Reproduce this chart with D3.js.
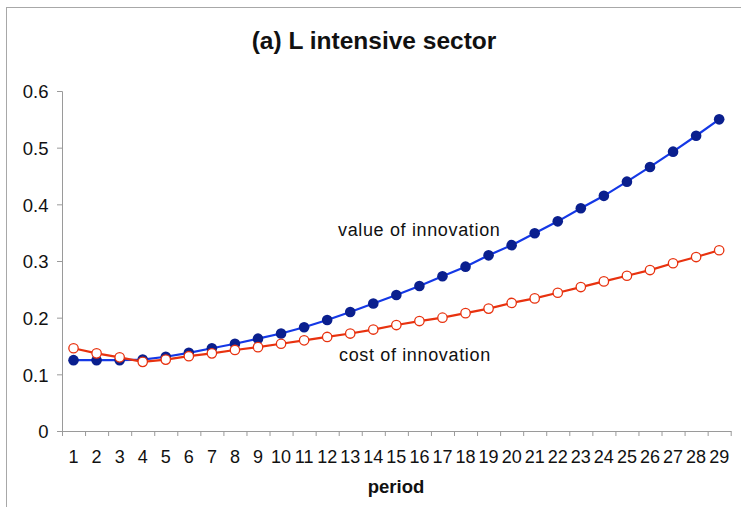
<!DOCTYPE html>
<html>
<head>
<meta charset="utf-8">
<script src="https://cdn.jsdelivr.net/npm/d3@7"></script>
<style>
  html, body { margin: 0; padding: 0; background: #fff; }
  svg { display: block; font-family: "Liberation Sans", Arial, Helvetica, sans-serif; }
</style>
</head>
<body>
<svg id="chart" width="741" height="507"></svg>
<script>
// ---- data ----
const periods = d3.range(1, 30).map(String);
const valueOfInnovation = [0.125,0.125,0.125,0.126,0.131,0.138,0.146,0.154,0.163,0.172,0.183,0.196,0.210,0.225,0.240,0.256,0.273,0.290,0.310,0.328,0.349,0.370,0.393,0.415,0.440,0.466,0.493,0.521,0.550];
const costOfInnovation = [0.146,0.137,0.130,0.122,0.126,0.132,0.137,0.143,0.148,0.154,0.160,0.166,0.172,0.179,0.187,0.194,0.200,0.208,0.216,0.226,0.234,0.244,0.254,0.264,0.274,0.284,0.296,0.307,0.319];
const yTicks = [0, 0.1, 0.2, 0.3, 0.4, 0.5, 0.6];
const yTickLabels = ["0", "0.1", "0.2", "0.3", "0.4", "0.5", "0.6"];
const titleText = "(a) L intensive sector";
const xTitle = "period";
const seriesLabels = ["value of innovation", "cost of innovation"];

// ---- layout ----
const svg = d3.select("#chart");
const mLeft = 62, mRight = 730.7, mTop = 91, mBottom = 431;

// frame
svg.append("rect")
  .attr("x", 6.5).attr("y", 7.5).attr("width", 800).attr("height", 600)
  .attr("fill", "none").attr("stroke", "#a8a8a8").attr("stroke-width", 1);

const x = d3.scaleBand().domain(periods).range([mLeft, mRight]).padding(0);
const xEdge = d3.scaleLinear().domain([0, periods.length]).range([mLeft, mRight]);
const y = d3.scaleLinear().domain([0, 0.6]).range([mBottom, mTop]);

const axisColor = "#9a9a9a";

// y axis
const yAxis = svg.append("g")
  .attr("transform", `translate(${mLeft},0)`)
  .call(d3.axisLeft(y).tickValues(yTicks)
        .tickFormat((d, i) => yTickLabels[i]).tickSize(5).tickPadding(8.5));
yAxis.select(".domain").attr("stroke", axisColor);
yAxis.selectAll(".tick line").attr("stroke", axisColor);
yAxis.selectAll(".tick text").attr("font-size", 18.5).attr("fill", "#111")
  .attr("font-family", "Liberation Sans, Arial, sans-serif").attr("dy", "0.36em");

// x axis ticks at category boundaries
const xTicksG = svg.append("g")
  .attr("transform", `translate(0,${mBottom})`)
  .call(d3.axisBottom(xEdge).tickValues(d3.range(0, periods.length + 1))
        .tickFormat("").tickSize(5).tickSizeOuter(0));
xTicksG.select(".domain").attr("stroke", axisColor);
xTicksG.selectAll(".tick line").attr("stroke", axisColor);

// x axis labels at category centres
const xLab = svg.append("g")
  .attr("transform", `translate(0,${mBottom})`)
  .call(d3.axisBottom(x).tickSize(0).tickPadding(18.9));
xLab.select(".domain").remove();
xLab.selectAll(".tick text").attr("font-size", 18).attr("fill", "#111")
  .attr("font-family", "Liberation Sans, Arial, sans-serif");

// title
svg.append("text").attr("x", 374).attr("y", 48.5).attr("text-anchor", "middle")
  .attr("font-size", 24.5).attr("font-weight", "bold").attr("fill", "#111")
  .text(titleText);

// x title
svg.append("text").attr("x", 396).attr("y", 493).attr("text-anchor", "middle")
  .attr("font-size", 18.5).attr("font-weight", "bold").attr("fill", "#111")
  .text(xTitle);

// lines
const cx = (d, i) => x(periods[i]) + x.bandwidth() / 2;
const line = d3.line().x(cx).y(d => y(d));

svg.append("path").datum(valueOfInnovation)
  .attr("fill", "none").attr("stroke", "#1438e6").attr("stroke-width", 2.2)
  .attr("d", line);
svg.append("g").selectAll("circle").data(valueOfInnovation).join("circle")
  .attr("cx", cx)
  .attr("cy", d => y(d))
  .attr("r", 5.3).attr("fill", "#0a1f8e");

svg.append("path").datum(costOfInnovation)
  .attr("fill", "none").attr("stroke", "#e8320f").attr("stroke-width", 2.2)
  .attr("d", line);
svg.append("g").selectAll("circle").data(costOfInnovation).join("circle")
  .attr("cx", cx)
  .attr("cy", d => y(d))
  .attr("r", 4.7).attr("fill", "#fff").attr("stroke", "#e8320f").attr("stroke-width", 1.3);

// annotations
svg.append("text").attr("x", 338).attr("y", 236)
  .attr("font-size", 18).attr("letter-spacing", 0.65).attr("fill", "#111")
  .text(seriesLabels[0]);
svg.append("text").attr("x", 339).attr("y", 360.5)
  .attr("font-size", 18).attr("letter-spacing", 0.65).attr("fill", "#111")
  .text(seriesLabels[1]);
</script>
</body>
</html>
